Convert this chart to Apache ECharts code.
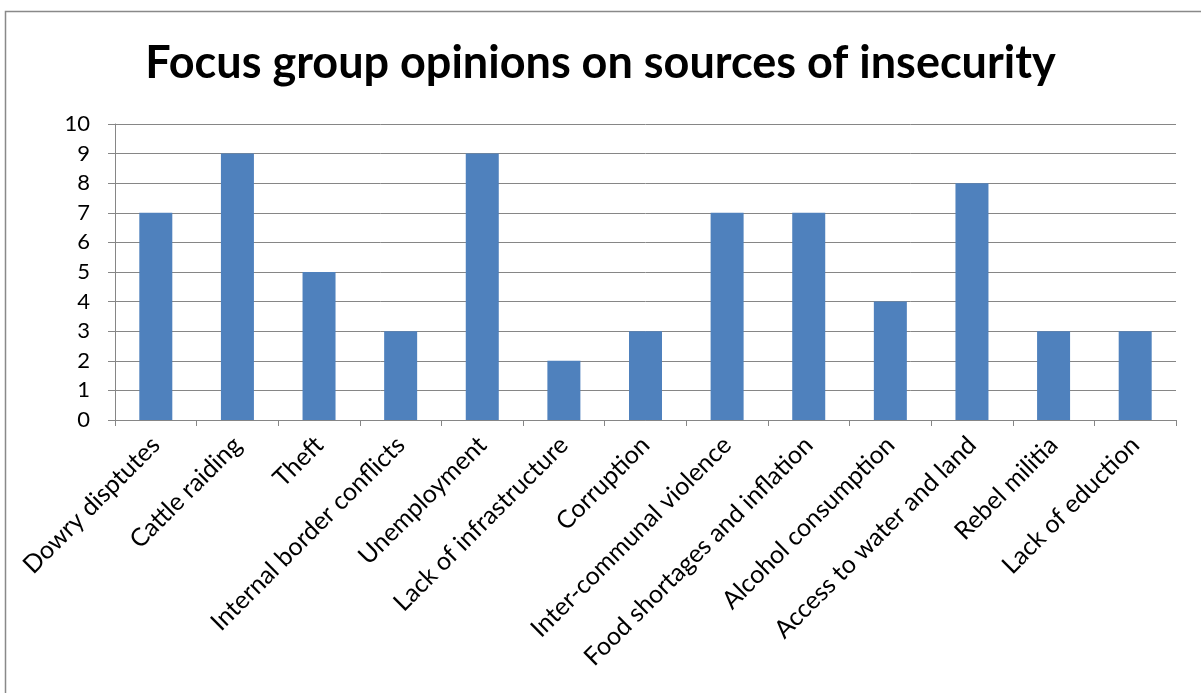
<!DOCTYPE html>
<html><head><meta charset="utf-8">
<script src="https://cdn.jsdelivr.net/npm/echarts@6/dist/echarts.min.js"></script>
<style>html,body{margin:0;padding:0;background:#fff}#c{width:1201px;height:693px}</style>
</head><body><div id="c"></div>
<script>
var categories = ["Dowry disptutes","Cattle raiding","Theft","Internal border conflicts","Unemployment","Lack of infrastructure","Corruption","Inter-communal violence","Food shortages and inflation","Alcohol consumption","Access to water and land","Rebel militia","Lack of eduction"];
var values = [7,9,5,3,9,2,3,7,7,4,8,3,3];
var yTicks = [0,1,2,3,4,5,6,7,8,9,10];
var FONT = 'Lato, "Open Sans", sans-serif';
var chart = echarts.init(document.getElementById('c'));
chart.setOption({
  animation:false,
  backgroundColor:'#fff',
  title:{text:'Focus group opinions on sources of insecurity',left:'center',top:36,
    textStyle:{fontFamily:FONT,fontWeight:'bold',fontSize:45,color:'#000'}},
  graphic:[{type:'rect',shape:{x:5.5,y:11.5,width:1400,height:900},style:{fill:null,stroke:'#898989',lineWidth:1.5},silent:true}],
  grid:{left:115,right:25,top:124,bottom:273,containLabel:false},
  xAxis:{type:'category',data:categories,
    axisLine:{lineStyle:{color:'#868686',width:1}},
    axisTick:{show:true,length:6,lineStyle:{color:'#868686'}},
    axisLabel:{rotate:45,interval:0,margin:21,fontFamily:FONT,fontSize:25,color:'#000'}},
  yAxis:{type:'value',min:0,max:10,interval:1,
    axisLine:{show:true,lineStyle:{color:'#868686',width:1}},
    axisTick:{show:true,inside:false,length:7,lineStyle:{color:'#868686'}},
    splitLine:{lineStyle:{color:'#868686',width:1}},
    axisLabel:{margin:25,fontFamily:FONT,fontSize:22,color:'#000',
      formatter:function(v){return yTicks.indexOf(v)>=0?String(v):'';}}},
  series:[{type:'bar',data:values,barWidth:33,itemStyle:{color:'#4F81BD'}}]
});
</script></body></html>
